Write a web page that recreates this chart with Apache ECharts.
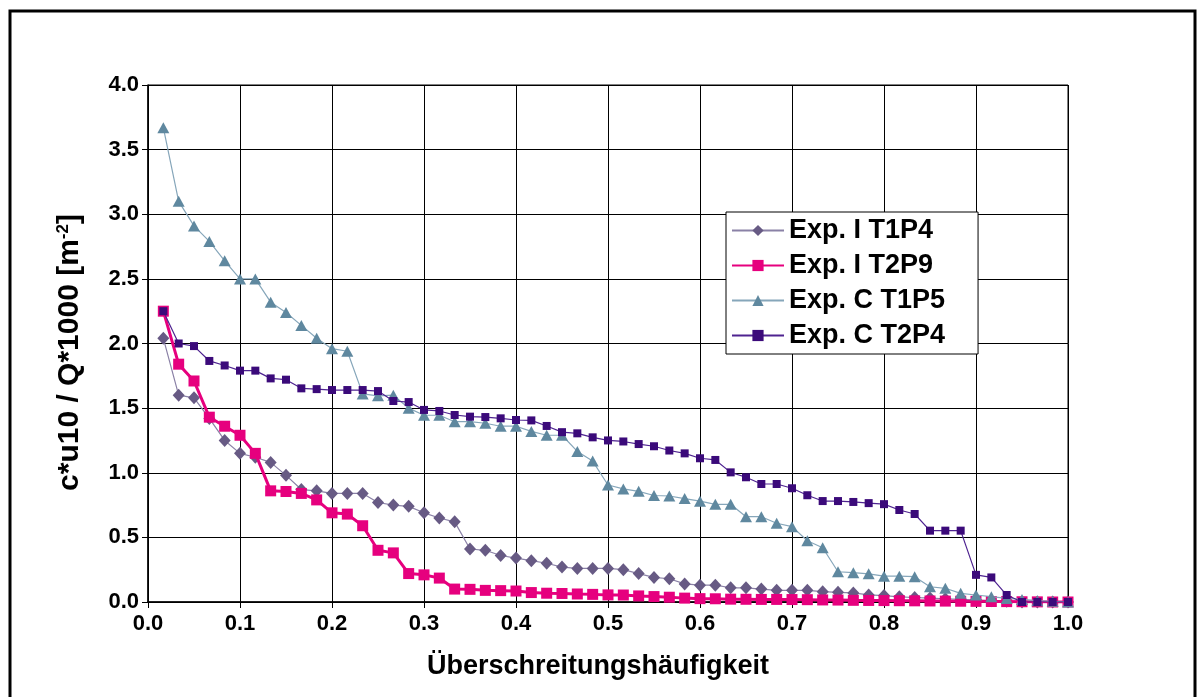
<!DOCTYPE html>
<html>
<head>
<meta charset="utf-8">
<script src="https://cdn.jsdelivr.net/npm/echarts@6/dist/echarts.min.js"></script>
<style>
html,body{margin:0;padding:0;background:#fff;}
#chart{width:1203px;height:697px;}
</style>
</head>
<body>
<div id="chart"></div>
<script>
// Exceedance frequency: 60 points, x = i/60
var nPoints = 60;
var seriesNames = ['Exp. I T1P4', 'Exp. I T2P9', 'Exp. C T1P5', 'Exp. C T2P4'];
var xTicks = ['0.0','0.1','0.2','0.3','0.4','0.5','0.6','0.7','0.8','0.9','1.0'];
var yTicks = ['0.0','0.5','1.0','1.5','2.0','2.5','3.0','3.5','4.0'];

var expI_T1P4 = [2.04,1.60,1.58,1.42,1.25,1.15,1.12,1.08,0.98,0.87,
  0.86,0.84,0.84,0.84,0.77,0.75,0.74,0.69,0.65,0.62,
  0.41,0.40,0.36,0.34,0.32,0.30,0.27,0.26,0.26,0.26,
  0.25,0.22,0.19,0.18,0.14,0.13,0.13,0.11,0.11,0.10,
  0.09,0.09,0.09,0.08,0.075,0.07,0.055,0.05,0.04,0.035,
  0.03,0.025,0.02,0.015,0.01,0.005,0,0,0,0];
var expI_T2P9 = [2.25,1.84,1.71,1.43,1.36,1.29,1.15,0.86,0.855,0.84,
  0.79,0.69,0.68,0.59,0.40,0.38,0.22,0.21,0.185,0.10,
  0.098,0.09,0.088,0.085,0.073,0.068,0.066,0.062,0.059,0.055,
  0.054,0.047,0.042,0.037,0.03,0.026,0.025,0.022,0.021,0.02,
  0.02,0.019,0.018,0.016,0.015,0.013,0.012,0.011,0.01,0.009,
  0.008,0.007,0.006,0.005,0.004,0.003,0.002,0.001,0,0];
var expC_T1P5 = [3.67,3.10,2.91,2.79,2.64,2.50,2.50,2.32,2.24,2.14,
  2.04,1.96,1.94,1.61,1.595,1.60,1.50,1.445,1.445,1.395,
  1.395,1.383,1.36,1.36,1.32,1.29,1.29,1.165,1.09,0.905,
  0.875,0.856,0.824,0.82,0.80,0.78,0.756,0.756,0.66,0.66,
  0.609,0.583,0.474,0.42,0.234,0.227,0.218,0.20,0.20,0.196,
  0.118,0.106,0.067,0.054,0.041,0.028,0.02,0.01,0.005,0];
var expC_T2P4 = [2.25,2.00,1.98,1.865,1.83,1.79,1.79,1.73,1.72,1.653,
  1.647,1.64,1.64,1.64,1.632,1.555,1.547,1.486,1.478,1.447,
  1.434,1.431,1.421,1.408,1.405,1.362,1.314,1.305,1.274,1.25,
  1.242,1.222,1.205,1.172,1.15,1.112,1.099,1.003,0.965,0.913,
  0.913,0.88,0.826,0.781,0.781,0.774,0.765,0.757,0.712,0.681,
  0.552,0.552,0.552,0.21,0.19,0.054,0,0,0,0];

function pairs(vals){
  return vals.map(function(v,i){ return [(i+1)/nPoints, v]; });
}

var FONT = '"Liberation Sans", Arial, sans-serif';
var chart = echarts.init(document.getElementById('chart'), null, {renderer:'canvas'});

var option = {
  backgroundColor: '#ffffff',
  animation: false,
  graphic: [{
    type: 'rect',
    shape: {x: 10, y: 11, width: 1185, height: 720},
    style: {fill: 'none', stroke: '#000', lineWidth: 3},
    z: 100
  }],
  grid: {left: 148, right: 135, top: 85, bottom: 95, show: true, borderColor: '#000', borderWidth: 1},
  legend: {
    orient: 'vertical',
    left: 726, top: 212,
    padding: [5, 33, 5, 5],
    itemGap: 8,
    itemWidth: 52, itemHeight: 14,
    backgroundColor: '#fff',
    borderColor: '#000', borderWidth: 1,
    textStyle: {fontFamily: FONT, fontWeight: 'bold', fontSize: 27, color: '#000'},
    data: seriesNames
  },
  xAxis: {
    type: 'value', min: 0, max: 1, interval: 0.1,
    name: 'Überschreitungshäufigkeit', nameLocation: 'middle', nameGap: 51,
    nameTextStyle: {fontFamily: FONT, fontWeight: 'bold', fontSize: 27, color: '#000', padding: [0, 20, 0, 0]},
    axisLine: {lineStyle: {color: '#000', width: 1.5}},
    axisTick: {show: true, inside: false, length: 6, lineStyle: {color: '#000'}},
    axisLabel: {fontFamily: FONT, fontWeight: 'bold', fontSize: 22, color: '#000', margin: 11,
      formatter: function(v){ return xTicks[Math.round(v*10)]; }},
    splitLine: {show: true, lineStyle: {color: '#000', width: 1}}
  },
  yAxis: {
    type: 'value', min: 0, max: 4, interval: 0.5,
    name: 'c*u10 / Q*1000 [m{sup|-2}]', nameLocation: 'middle', nameGap: 63, nameRotate: 90,
    nameTextStyle: {fontFamily: FONT, fontWeight: 'bold', fontSize: 30, color: '#000', padding: [0, 18, 0, 0],
      rich: {sup: {fontFamily: FONT, fontWeight: 'bold', fontSize: 17, color: '#000', verticalAlign: 'top'}}},
    axisLine: {show: true, lineStyle: {color: '#000', width: 1.5}},
    axisTick: {show: true, inside: false, length: 6, lineStyle: {color: '#000'}},
    axisLabel: {fontFamily: FONT, fontWeight: 'bold', fontSize: 22, color: '#000', margin: 9,
      formatter: function(v){ return yTicks[Math.round(v*2)]; }},
    splitLine: {show: true, lineStyle: {color: '#000', width: 1}}
  },
  series: [
    {name: seriesNames[0], type: 'line', data: pairs(expI_T1P4),
     symbol: 'diamond', symbolSize: [12, 13],
     lineStyle: {color: '#8A81A6', width: 1.2},
     itemStyle: {color: '#675A84'}, z: 2},
    {name: seriesNames[1], type: 'line', data: pairs(expI_T2P9),
     symbol: 'rect', symbolSize: 11,
     lineStyle: {color: '#E6007E', width: 3},
     itemStyle: {color: '#E6007E'}, z: 3},
    {name: seriesNames[2], type: 'line', data: pairs(expC_T1P5),
     symbol: 'triangle', symbolSize: [12, 11],
     lineStyle: {color: '#86A6BA', width: 1.2},
     itemStyle: {color: '#5F889F'}, z: 4},
    {name: seriesNames[3], type: 'line', data: pairs(expC_T2P4),
     symbol: 'rect', symbolSize: 8,
     lineStyle: {color: '#4E2390', width: 1.2},
     itemStyle: {color: '#3B0A7A'}, z: 5}
  ]
};
chart.setOption(option);
</script>
</body>
</html>
